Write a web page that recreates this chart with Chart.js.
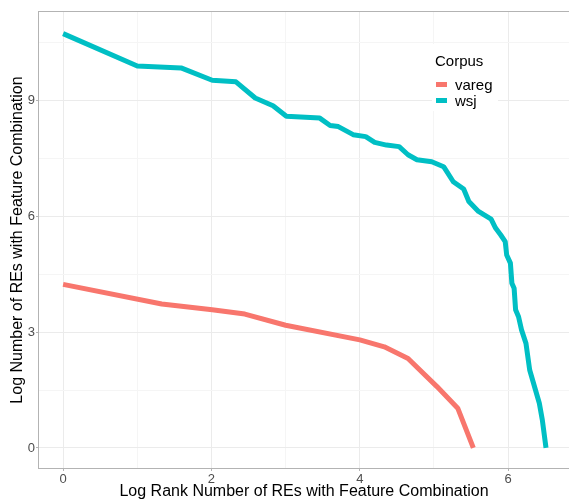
<!DOCTYPE html>
<html>
<head>
<meta charset="utf-8">
<script src="https://cdn.jsdelivr.net/npm/chart.js@4/dist/chart.umd.min.js"></script>
<style>
  html, body { margin: 0; padding: 0; background: #ffffff; }
  #wrap { width: 569px; height: 501px; }
</style>
</head>
<body>
<div id="wrap"><canvas id="RankChart" width="569" height="501"></canvas></div>
<script>
// values (log rank, log count)
var varegX = [0, 1.33, 2.01, 2.45, 3.0, 4.0, 4.33, 4.65, 5.04, 5.32, 5.53];
var varegY = [4.24, 3.73, 3.58, 3.47, 3.18, 2.80, 2.62, 2.32, 1.59, 1.03, 0];

var wsjX = [0, 1.0, 1.59, 2.01, 2.33, 2.59, 2.83, 3.01, 3.46, 3.60, 3.71, 3.91, 4.08, 4.20,
            4.36, 4.53, 4.65, 4.77, 4.97, 5.13, 5.26, 5.40, 5.47, 5.60, 5.77, 5.83, 5.90,
            5.96, 5.98, 6.03, 6.05, 6.08, 6.10, 6.14, 6.18, 6.24, 6.29, 6.42, 6.46, 6.51];
var wsjY = [10.74, 9.90, 9.85, 9.53, 9.49, 9.07, 8.87, 8.60, 8.55, 8.36, 8.33, 8.12, 8.07, 7.92,
            7.85, 7.81, 7.60, 7.47, 7.42, 7.29, 6.90, 6.71, 6.39, 6.13, 5.93, 5.70, 5.52,
            5.35, 5.00, 4.79, 4.27, 4.14, 3.58, 3.40, 3.06, 2.71, 2.02, 1.16, 0.73, 0];

var xMajor = [0, 2, 4, 6];
var xGrid = [0, 1, 2, 3, 4, 5, 6];
var yMajor = [0, 3, 6, 9];
var yGrid = [0, 1.5, 3, 4.5, 6, 7.5, 9, 10.5];

var seriesNames = ['vareg', 'wsj'];
var seriesColors = ['#F8766D', '#00BFC4'];
var legendTitle = 'Corpus';

var FONT = '"Liberation Sans", Arial, sans-serif';

function toPoints(xs, ys) {
    return xs.map(function (x, i) { return { x: x, y: ys[i] }; });
}

function gridColor(major) {
    return function (ctx) {
        if (!ctx.tick) return '#ebebeb';
        return major.indexOf(ctx.tick.value) >= 0 ? '#ebebeb' : '#f5f5f5';
    };
}
function tickColor(major) {
    return function (ctx) {
        if (!ctx.tick) return '#b3b3b3';
        return major.indexOf(ctx.tick.value) >= 0 ? '#b3b3b3' : 'rgba(0,0,0,0)';
    };
}

var panelAndLegend = {
    id: 'panelAndLegend',
    afterDraw: function (chart) {
        var c = chart.ctx, a = chart.chartArea;
        c.save();
        // panel border
        c.strokeStyle = '#b3b3b3';
        c.lineWidth = 1;
        c.strokeRect(Math.round(a.left) - 0.5, Math.round(a.top) - 0.5,
                     Math.round(a.right - a.left) + 1, Math.round(a.bottom - a.top) + 1);
        // legend box
        c.fillStyle = '#ffffff';
        c.fillRect(432, 44, 66, 67);
        c.fillStyle = '#000000';
        c.font = '15px ' + FONT;
        c.textBaseline = 'alphabetic';
        c.fillText(legendTitle, 435, 66);
        var keyY = [84.5, 100.5];
        var labY = [90, 105.5];
        for (var i = 0; i < seriesNames.length; i++) {
            c.strokeStyle = seriesColors[i];
            c.lineWidth = 5;
            c.beginPath();
            c.moveTo(436, keyY[i]);
            c.lineTo(447, keyY[i]);
            c.stroke();
            c.fillStyle = '#000000';
            c.fillText(seriesNames[i], 455, labY[i]);
        }
        c.restore();
    }
};

var el = document.getElementById('RankChart');
var RankChart = new Chart(el, {
    type: 'scatter',
    data: {
        datasets: [{
            label: seriesNames[0],
            data: toPoints(varegX, varegY),
            showLine: true,
            borderColor: seriesColors[0],
            backgroundColor: seriesColors[0],
            borderWidth: 5,
            borderJoinStyle: 'round',
            pointRadius: 0,
            tension: 0
        }, {
            label: seriesNames[1],
            data: toPoints(wsjX, wsjY),
            showLine: true,
            borderColor: seriesColors[1],
            backgroundColor: seriesColors[1],
            borderWidth: 5,
            borderJoinStyle: 'round',
            pointRadius: 0,
            tension: 0
        }]
    },
    options: {
        responsive: false,
        animation: false,
        devicePixelRatio: 1,
        layout: { padding: { top: 12, right: 0, bottom: 0, left: 0 } },
        plugins: {
            legend: { display: false },
            tooltip: { enabled: false }
        },
        scales: {
            x: {
                type: 'linear',
                min: -0.325,
                max: 6.82,
                afterBuildTicks: function (scale) {
                    scale.ticks = xGrid.map(function (v) { return { value: v }; });
                },
                afterFit: function (scale) { scale.height = 33; },
                ticks: {
                    autoSkip: false,
                    maxRotation: 0,
                    padding: 1,
                    color: '#4d4d4d',
                    font: { family: FONT, size: 13 },
                    callback: function (v) { return xMajor.indexOf(v) >= 0 ? String(v) : ''; }
                },
                grid: {
                    color: gridColor(xMajor),
                    tickColor: tickColor(xMajor),
                    tickLength: 3,
                    lineWidth: 1
                },
                border: { display: false },
                title: {
                    display: true,
                    text: 'Log Rank Number of REs with Feature Combination',
                    color: '#000000',
                    font: { family: FONT, size: 16 },
                    padding: { top: 0, bottom: 0 }
                }
            },
            y: {
                type: 'linear',
                min: -0.52,
                max: 11.30,
                afterBuildTicks: function (scale) {
                    scale.ticks = yGrid.map(function (v) { return { value: v }; });
                },
                afterFit: function (scale) { scale.width = 39; },
                ticks: {
                    autoSkip: false,
                    padding: 1,
                    color: '#4d4d4d',
                    font: { family: FONT, size: 13 },
                    callback: function (v) { return yMajor.indexOf(v) >= 0 ? String(v) : ''; }
                },
                grid: {
                    color: gridColor(yMajor),
                    tickColor: tickColor(yMajor),
                    tickLength: 3,
                    lineWidth: 1
                },
                border: { display: false },
                title: {
                    display: true,
                    text: 'Log Number of REs with Feature Combination',
                    color: '#000000',
                    font: { family: FONT, size: 16 },
                    padding: { top: 8, bottom: 0 }
                }
            }
        }
    },
    plugins: [panelAndLegend]
});
</script>
</body>
</html>
